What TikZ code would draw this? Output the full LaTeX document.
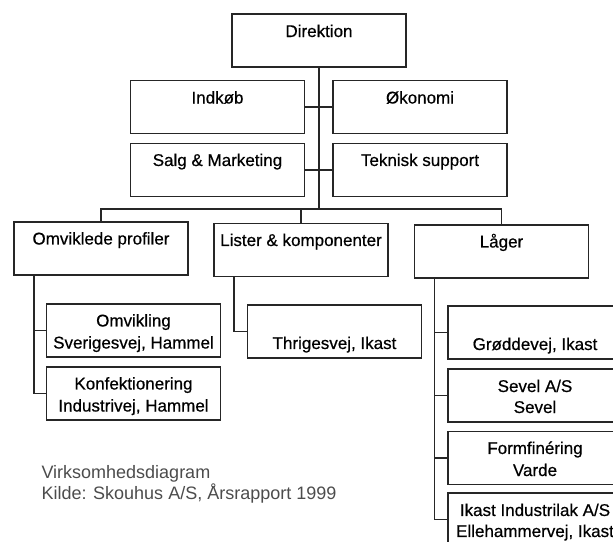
\documentclass[tikz,border=0pt]{standalone}
\usepackage{fontspec}
\setmainfont{Liberation Sans}
\newfontfamily\lblfont{Liberation Sans}[FakeBold=0.5]
\usetikzlibrary{positioning}

% strut: 17.5pt above, 3.5pt below the baseline
\newcommand{\lstrut}{\rule[-3.5pt]{0pt}{21pt}}

\begin{document}
\begin{tikzpicture}[x=1pt, y=-1pt,
    box/.style={draw=black!85, line width=1.6pt, fill=white, inner sep=0pt,
      minimum width=174pt, minimum height=53pt, align=center,
      font=\lblfont\fontsize{17}{21}\selectfont},
    link/.style={draw=black!85, line width=1.5pt},
    caption/.style={anchor=base west, text=black!70, font=\fontsize{18}{21}\selectfont}]

    \useasboundingbox (0,0) rectangle (613,541);
    \clip (0,0) rectangle (613,541);

    %% top level
    \node[box] (dir) at (319,40.5) {\lstrut Direktion\\\lstrut};

    %% staff
    \node[box] (ind)  at (217.5,107) {\lstrut Indkøb\\\lstrut};
    \node[box] (oko)  at (420,107)   {\lstrut Økonomi\\\lstrut};
    \node[box] (salg) at (217.5,170) {\lstrut Salg \& Marketing\\\lstrut};
    \node[box] (tek)  at (420,170)   {\lstrut Teknisk support\\\lstrut};

    %% divisions
    \node[box] (omv) at (101,248.5) {\lstrut Omviklede profiler\\\lstrut};
    \node[box] (lis) at (301,250)   {\lstrut Lister \& komponenter\\\lstrut};
    \node[box] (lag) at (501.5,251.5) {\lstrut Låger\\\lstrut};

    %% sites
    \node[box] (omvik) at (133.5,330.5) {\lstrut Omvikling\\\lstrut Sverigesvej, Hammel};
    \node[box] (konf)  at (133.5,393.5) {\lstrut Konfektionering\\\lstrut Industrivej, Hammel};
    \node[box] (thr)   at (334.5,331.5) {\lstrut\\\lstrut Thrigesvej, Ikast};
    \node[box] (gro)   at (535,332.5)   {\lstrut\\\lstrut Grøddevej, Ikast};
    \node[box] (sev)   at (535,395.5)   {\lstrut Sevel A/S\\\lstrut Sevel};
    \node[box] (form)  at (535,458)     {\lstrut Formfinéring\\\lstrut Varde};
    \node[box] (ikast) at (535,519.5)   {\lstrut Ikast Industrilak A/S\\\lstrut Ellehammervej, Ikast};

    %% connectors
    \coordinate (bus) at (319,209);
    \draw[link] (dir.south) -- (bus);
    \draw[link] (ind.east) -- (oko.west);
    \draw[link] (salg.east) -- (tek.west);
    \draw[link] (omv.north) |- (bus) -| (lag.north);
    \draw[link] (lis.north) -- (lis.north |- bus);

    \coordinate (omvdrop) at ([xshift=21pt]omv.south west);
    \coordinate (lisdrop) at ([xshift=21pt]lis.south west);
    \coordinate (lagdrop) at ([xshift=21pt]lag.south west);
    \draw[link] (omvdrop) |- (omvik.west);
    \draw[link] (omvdrop) |- (konf.west);
    \draw[link] (lisdrop) |- (thr.west);
    \draw[link] (lagdrop) |- (gro.west);
    \draw[link] (lagdrop) |- (sev.west);
    \draw[link] (lagdrop) |- (form.west);
    \draw[link] (lagdrop) |- (ikast.west);

    %% source
    \node[caption] (cap1) at (38,478) {Virksomhedsdiagram};
    \node[caption] (cap2) at (38,499) {Kilde: Skouhus A/S, Årsrapport 1999};
\end{tikzpicture}
\end{document}
